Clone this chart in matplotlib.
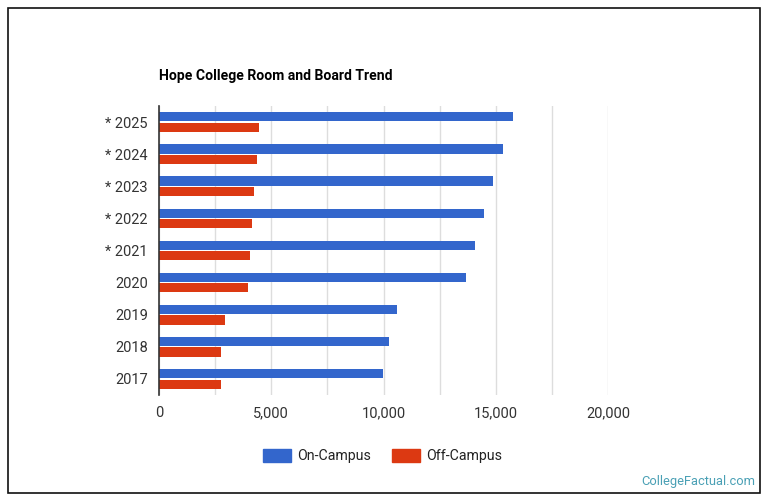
import matplotlib
matplotlib.use("Agg")
import matplotlib.pyplot as plt
import numpy as np
from matplotlib.patches import Rectangle

plt.rcParams['font.family'] = ['Roboto', 'DejaVu Sans']

# data, top to bottom as shown
years = ['* 2025', '* 2024', '* 2023', '* 2022', '* 2021', '2020', '2019', '2018', '2017']
on_campus = [15780, 15330, 14890, 14490, 14090, 13690, 10610, 10260, 9990]
off_campus = [4470, 4380, 4250, 4160, 4070, 3980, 2920, 2740, 2780]
xticks = [0, 5000, 10000, 15000, 20000]

BLUE = '#3366cc'
RED = '#dc3912'

W, H = 770, 503
fig = plt.figure(figsize=(W / 100, H / 100), dpi=100)

# outer frame
fig.patches.append(Rectangle((8 / W, 1 - 493 / H), 752 / W, 485 / H,
                             transform=fig.transFigure, fill=False,
                             edgecolor='#111111', linewidth=1.2))

ax = fig.add_axes([159 / W, 1 - 395 / H, (608 - 159) / W, (395 - 106) / H])

n = len(years)
y = np.arange(n)
h = 0.285
ax.barh(y - h / 2 - 0.02, on_campus, height=h, color=BLUE, zorder=3)
ax.barh(y + h / 2 + 0.02, off_campus, height=h, color=RED, zorder=3)

ax.set_ylim(n - 0.5, -0.5)
ax.set_xlim(0, 20000)
ax.set_yticks(y)
ax.set_yticklabels(years)
ax.set_xticks(xticks)
ax.set_xticklabels([f'{v:,}' for v in xticks])
ax.set_xticks(np.arange(2500, 20001, 5000), minor=True)
ax.grid(axis='x', which='both', color='#dddddd', linewidth=1, zorder=0)
ax.tick_params(axis='both', length=0, labelsize=10.5, colors='#333333', pad=8)
ax.tick_params(axis='x', which='minor', length=0)
for s in ['top', 'right', 'bottom']:
    ax.spines[s].set_visible(False)
ax.spines['left'].set_color('#333333')
ax.spines['left'].set_linewidth(1.2)
ax.spines['left'].set_zorder(4)

fig.text(159 / W, 1 - 76 / H, 'Hope College Room and Board Trend',
         fontsize=10.1, fontweight='bold', color='#000000', va='center')

# legend
for px, label, c in [(263, 'On-Campus', BLUE), (392, 'Off-Campus', RED)]:
    fig.patches.append(Rectangle((px / W, 1 - 462 / H), 28 / W, 13 / H,
                                 transform=fig.transFigure, color=c))
    fig.text((px + 34) / W, 1 - 456 / H, label, fontsize=10.2,
             color='#222222', va='center')

fig.text(755 / W, 1 - 481 / H, 'CollegeFactual.com', fontsize=9.3,
         color='#4aa0b5', ha='right', va='center')

fig.savefig('out.png', dpi=100)
